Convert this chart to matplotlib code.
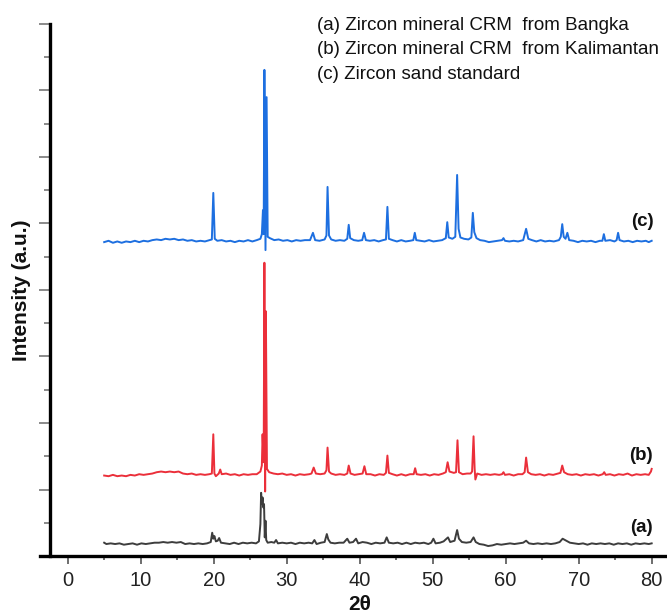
import matplotlib
matplotlib.use("Agg")
import matplotlib.pyplot as plt
from matplotlib.ticker import MultipleLocator, NullFormatter

plt.rcParams['font.family'] = ['Liberation Sans', 'DejaVu Sans']

# ---------------- data (2theta, relative intensity, arbitrary units) ----------------
two_theta_a = [5.0, 5.3, 5.9, 6.5, 7.1, 7.7, 8.3, 8.9, 9.5, 10.1, 10.7, 11.3, 11.9, 12.5, 13.1, 13.7,
               14.3, 14.9, 15.5, 16.1, 16.7, 17.3, 17.9, 18.5, 19.1, 19.6, 19.8, 19.95, 20.1, 20.3,
               20.55, 20.75, 21.0, 21.6, 22.2, 22.8, 23.4, 24.0, 24.6, 25.2, 25.8, 26.2, 26.4, 26.5,
               26.6, 26.7, 26.8, 26.9, 27.0, 27.1, 27.2, 27.4, 27.9, 28.3, 28.55, 28.8, 29.4, 30.0,
               30.6, 31.2, 31.8, 32.4, 33.0, 33.5, 33.8, 34.1, 34.7, 35.2, 35.5, 35.7, 36.0, 36.6,
               37.2, 37.8, 38.3, 38.6, 39.1, 39.5, 39.8, 40.4, 41.0, 41.6, 42.2, 42.8, 43.4, 43.7,
               44.0, 44.6, 45.2, 45.8, 46.4, 47.0, 47.6, 48.2, 48.8, 49.4, 49.8, 50.1, 50.4, 51.0,
               51.5, 51.9, 52.1, 52.4, 53.0, 53.35, 53.6, 54.0, 54.6, 55.2, 55.6, 55.9, 56.4, 57.0,
               57.6, 58.2, 58.8, 59.4, 60.0, 60.6, 61.2, 61.8, 62.4, 62.8, 63.2, 63.8, 64.4, 65.0,
               65.6, 66.2, 66.8, 67.4, 67.8, 68.3, 68.8, 69.4, 70.0, 70.6, 71.2, 71.8, 72.4, 73.0,
               73.6, 74.2, 74.8, 75.4, 76.0, 76.6, 77.2, 77.8, 78.4, 79.0, 79.6, 80.0]
intensity_a = [0.02, 0.00, 0.01, 0.00, 0.01, -0.01, 0.00, 0.01, -0.01, 0.01, 0.00, 0.01, 0.02, 0.02,
               0.03, 0.02, 0.03, 0.02, 0.03, 0.00, 0.01, 0.00, 0.01, 0.00, 0.01, 0.03, 0.17, 0.08,
               0.12, 0.04, 0.05, 0.09, 0.02, 0.01, 0.00, 0.02, 0.00, 0.02, 0.01, 0.02, 0.01, 0.04,
               0.30, 0.77, 0.60, 0.70, 0.55, 0.60, 0.10, 0.35, 0.06, 0.02, 0.03, 0.02, 0.06, 0.01,
               0.02, 0.01, 0.02, 0.00, 0.02, 0.01, 0.02, 0.01, 0.06, 0.00, 0.02, 0.03, 0.15, 0.07,
               0.02, 0.01, 0.02, 0.02, 0.08, 0.02, 0.03, 0.08, 0.01, 0.03, 0.02, 0.00, 0.02, 0.01,
               0.02, 0.10, 0.02, 0.01, 0.02, 0.00, 0.02, 0.00, 0.02, 0.01, 0.02, 0.00, 0.02, 0.08,
               0.01, 0.02, 0.04, 0.08, 0.10, 0.03, 0.05, 0.21, 0.08, 0.03, 0.02, 0.03, 0.10, 0.03,
               0.00, -0.01, -0.03, -0.02, 0.00, -0.01, 0.00, 0.01, 0.00, 0.01, 0.02, 0.05, 0.01,
               0.00, 0.01, 0.00, 0.01, 0.00, 0.01, 0.03, 0.08, 0.05, 0.02, 0.01, 0.00, 0.01, -0.01,
               0.01, 0.00, 0.01, 0.00, 0.01, -0.01, 0.01, 0.00, 0.01, -0.01, 0.01, 0.00, 0.01, 0.00,
               0.01]

two_theta_b = [5.0, 5.6, 6.2, 6.8, 7.4, 8.0, 8.6, 9.2, 9.8, 10.4, 11.0, 11.6, 12.2, 12.8, 13.4, 14.0,
               14.6, 15.2, 15.8, 16.4, 17.0, 17.6, 18.2, 18.8, 19.4, 19.75, 19.95, 20.1, 20.3, 20.7,
               20.9, 21.1, 21.7, 22.3, 22.9, 23.5, 24.1, 24.7, 25.3, 25.9, 26.4, 26.6, 26.7, 26.85,
               26.95, 27.05, 27.15, 27.3, 27.6, 28.2, 28.8, 29.4, 30.0, 30.6, 31.2, 31.8, 32.4, 33.1,
               33.4, 33.7, 34.0, 34.6, 35.2, 35.45, 35.6, 35.8, 36.1, 36.7, 37.3, 37.9, 38.3, 38.5,
               38.75, 39.3, 39.9, 40.4, 40.65, 40.9, 41.5, 42.1, 42.7, 43.3, 43.6, 43.8, 44.0, 44.5,
               45.1, 45.7, 46.3, 46.9, 47.4, 47.6, 47.8, 48.4, 49.0, 49.6, 50.2, 50.8, 51.4, 51.8,
               52.05, 52.3, 52.9, 53.2, 53.4, 53.6, 54.1, 54.7, 55.2, 55.4, 55.6, 55.75, 55.85, 56.1,
               56.7, 57.3, 57.9, 58.5, 59.1, 59.5, 59.7, 59.9, 60.5, 61.1, 61.7, 62.3, 62.6, 62.8,
               63.05, 63.5, 64.1, 64.7, 65.3, 65.9, 66.5, 67.2, 67.5, 67.75, 68.0, 68.5, 69.1, 69.7,
               70.3, 70.9, 71.5, 72.1, 72.7, 73.3, 73.5, 73.7, 74.3, 74.9, 75.5, 76.1, 76.7, 77.3,
               77.9, 78.5, 79.1, 79.6, 79.9, 80.0]
intensity_b = [0.00, -0.01, 0.01, -0.01, 0.00, -0.01, 0.01, 0.00, 0.02, 0.01, 0.02, 0.03, 0.05, 0.06,
               0.05, 0.06, 0.05, 0.06, 0.03, 0.02, 0.03, 0.01, 0.02, 0.01, 0.02, 0.03, 0.62, 0.03,
               -0.01, 0.03, 0.09, 0.02, 0.03, 0.01, 0.02, 0.00, 0.02, 0.01, 0.02, 0.02, 0.06, 0.15,
               0.62, 0.20, 3.20, -0.24, 2.47, 0.10, 0.05, 0.03, 0.02, 0.03, 0.01, 0.02, 0.00, 0.02,
               0.01, 0.02, 0.03, 0.12, 0.03, 0.02, 0.03, 0.08, 0.42, 0.06, 0.03, 0.01, 0.02, 0.01,
               0.03, 0.15, 0.03, 0.01, 0.02, 0.03, 0.14, 0.02, 0.02, 0.00, 0.02, 0.01, 0.04, 0.30,
               0.04, 0.02, 0.00, 0.02, 0.00, 0.02, 0.02, 0.11, 0.02, 0.01, 0.02, 0.00, 0.02, 0.01,
               0.03, 0.05, 0.20, 0.06, 0.04, 0.05, 0.53, 0.05, 0.02, 0.03, 0.03, 0.06, 0.59, 0.10,
               -0.06, 0.03, 0.01, 0.02, 0.01, 0.02, 0.01, 0.02, 0.05, 0.01, 0.02, 0.00, 0.02, 0.02,
               0.05, 0.27, 0.05, 0.02, 0.01, 0.02, 0.00, 0.02, 0.01, 0.03, 0.04, 0.15, 0.05, 0.02,
               0.01, 0.02, 0.00, 0.02, 0.01, 0.02, 0.00, 0.02, 0.05, 0.01, 0.02, 0.00, 0.02, 0.01,
               0.03, 0.00, 0.02, 0.01, 0.02, 0.01, 0.06, 0.10]

two_theta_c = [5.0, 5.6, 6.2, 6.8, 7.4, 8.0, 8.6, 9.2, 9.8, 10.4, 11.0, 11.6, 12.2, 12.8, 13.4, 14.0,
               14.6, 15.2, 15.8, 16.4, 17.0, 17.6, 18.2, 18.8, 19.4, 19.75, 19.95, 20.15, 20.5, 21.1,
               21.7, 22.3, 22.9, 23.5, 24.1, 24.7, 25.3, 25.9, 26.4, 26.6, 26.75, 26.85, 26.95, 27.1,
               27.25, 27.4, 27.7, 28.3, 28.9, 29.5, 30.1, 30.7, 31.3, 31.9, 32.5, 33.2, 33.6, 33.9,
               34.5, 35.2, 35.45, 35.6, 35.8, 36.1, 36.7, 37.3, 37.9, 38.3, 38.5, 38.7, 39.2, 39.8,
               40.35, 40.6, 40.85, 41.4, 42.0, 42.6, 43.2, 43.6, 43.8, 44.0, 44.5, 45.1, 45.7, 46.3,
               46.9, 47.35, 47.55, 47.75, 48.3, 48.9, 49.5, 50.1, 50.7, 51.3, 51.8, 52.0, 52.2, 52.7,
               53.1, 53.35, 53.55, 53.8, 54.3, 54.9, 55.3, 55.5, 55.7, 56.0, 56.5, 57.1, 57.7, 58.3,
               58.9, 59.5, 59.7, 59.9, 60.5, 61.1, 61.7, 62.4, 62.8, 63.1, 63.6, 64.2, 64.8, 65.4,
               66.0, 66.6, 67.3, 67.55, 67.75, 67.95, 68.2, 68.45, 68.7, 69.3, 69.9, 70.5, 71.1,
               71.7, 72.3, 72.9, 73.25, 73.45, 73.65, 74.3, 74.9, 75.2, 75.4, 75.6, 76.2, 76.8, 77.4,
               78.0, 78.6, 79.2, 79.6, 80.0]
intensity_c = [0.00, 0.02, -0.01, 0.01, -0.01, 0.01, 0.00, 0.02, 0.00, 0.02, 0.01, 0.03, 0.04, 0.03,
               0.05, 0.04, 0.05, 0.03, 0.04, 0.02, 0.03, 0.01, 0.02, 0.01, 0.03, 0.04, 0.74, 0.05,
               0.02, 0.03, 0.01, 0.02, 0.00, 0.02, 0.01, 0.03, 0.01, 0.03, 0.05, 0.12, 0.48, 0.12,
               2.59, -0.12, 2.18, 0.08, 0.06, 0.03, 0.04, 0.02, 0.03, 0.01, 0.03, 0.02, 0.03, 0.03,
               0.14, 0.03, 0.02, 0.04, 0.10, 0.83, 0.10, 0.04, 0.02, 0.03, 0.02, 0.05, 0.26, 0.06,
               0.03, 0.02, 0.03, 0.14, 0.03, 0.02, 0.03, 0.01, 0.03, 0.04, 0.53, 0.05, 0.03, 0.01,
               0.03, 0.01, 0.02, 0.03, 0.14, 0.03, 0.02, 0.01, 0.03, 0.01, 0.02, 0.03, 0.06, 0.30,
               0.07, 0.05, 0.08, 1.01, 0.20, 0.07, 0.05, 0.04, 0.07, 0.44, 0.15, 0.06, 0.03, 0.02,
               0.00, 0.01, 0.02, 0.03, 0.06, 0.02, 0.01, 0.02, 0.01, 0.03, 0.20, 0.05, 0.03, 0.01,
               0.03, 0.01, 0.02, 0.01, 0.03, 0.08, 0.27, 0.08, 0.05, 0.14, 0.03, 0.02, 0.00, 0.02,
               0.01, 0.02, 0.00, 0.02, 0.02, 0.12, 0.02, 0.03, 0.01, 0.03, 0.14, 0.03, 0.01, 0.02,
               0.00, 0.02, 0.01, 0.02, 0.00, 0.02]

series_labels = ['(a)', '(b)', '(c)']
legend_lines = ['(a) Zircon mineral CRM  from Bangka',
                '(b) Zircon mineral CRM  from Kalimantan',
                '(c) Zircon sand standard']
x_ticks = [0, 10, 20, 30, 40, 50, 60, 70, 80]

# ---------------- figure ----------------
W, H = 667, 614
fig = plt.figure(figsize=(W / 100, H / 100), dpi=100)
ax = fig.add_axes([40 / W, (H - 556) / H, (W - 40) / W, (556 - 24) / H])

offsets = [0.18, 1.21, 4.72]
colors = ['#3d3d3d', '#eb2f3a', '#1d6fe0']
data = [(two_theta_a, intensity_a), (two_theta_b, intensity_b), (two_theta_c, intensity_c)]
for (xs, ys), off, col in zip(data, offsets, colors):
    ax.plot(xs, [v + off for v in ys], color=col, lw=1.4)

ax.set_xlim(-3.79, 82.1)
ax.set_ylim(0, 8)

for sp in ['top', 'right']:
    ax.spines[sp].set_visible(False)
ax.spines['left'].set_position(('data', -2.42))
for sp in ['left', 'bottom']:
    ax.spines[sp].set_linewidth(2.4)
    ax.spines[sp].set_color('black')

ax.set_xticks(x_ticks)
ax.xaxis.set_minor_locator(MultipleLocator(5))
ax.yaxis.set_major_locator(MultipleLocator(1))
ax.yaxis.set_minor_locator(MultipleLocator(0.5))
ax.yaxis.set_major_formatter(NullFormatter())
ax.tick_params(axis='x', which='major', direction='out', length=6, width=1.2, color='#555555',
               labelsize=14.5, labelcolor='#222222', pad=5)
ax.tick_params(axis='x', which='minor', direction='out', length=3, width=1.2, color='#555555')
ax.tick_params(axis='y', which='major', direction='out', length=8, width=1.2, color='#777777')
ax.tick_params(axis='y', which='minor', direction='out', length=4, width=1.2, color='#777777')

ax.set_xlabel('2θ', fontsize=15, fontweight='bold', color='#111111')
ax.xaxis.label.set_verticalalignment('center')
ax.xaxis.set_label_coords((360 - 40) / 627, (556 - 605) / 532)
ax.set_ylabel('Intensity (a.u.)', fontsize=15, fontweight='bold', color='#111111')
ax.yaxis.label.set_verticalalignment('center')
ax.yaxis.set_label_coords((22 - 40) / 627, (556 - 290) / 532)

label_pos = [(641, 528), (641, 455), (642, 222)]
for lab, (px, py) in zip(series_labels, label_pos):
    fig.text(px / W, 1 - py / H, lab, fontsize=13.5, fontweight='bold', ha='center', va='center',
             color='#111111')

for i, line in enumerate(legend_lines):
    fig.text(317 / W, 1 - (25.5 + 24.3 * i) / H, line, fontsize=13.5, ha='left', va='center',
             color='#111111')

fig.savefig('out.png', dpi=100)
